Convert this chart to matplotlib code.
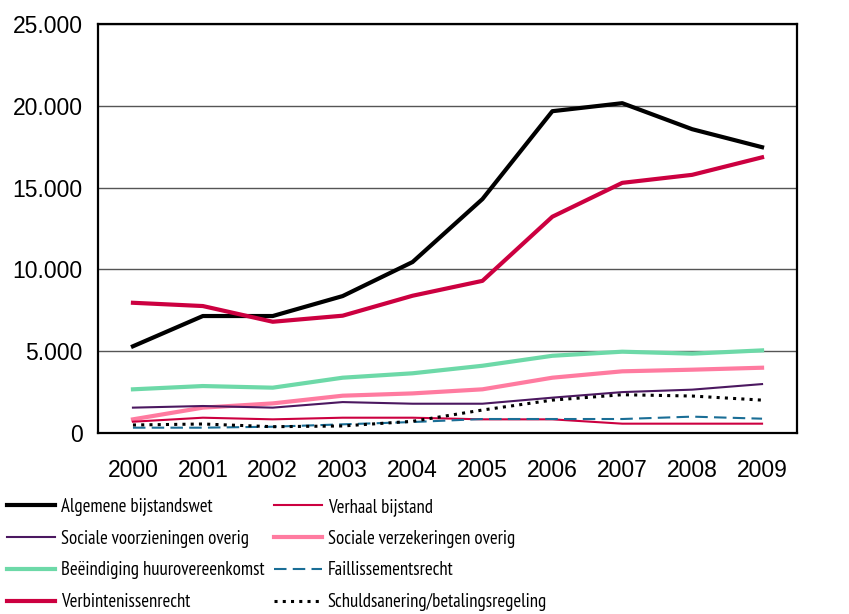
import matplotlib
matplotlib.use("Agg")
import matplotlib.pyplot as plt
from matplotlib.ticker import FuncFormatter

plt.rcParams["font.family"] = ["Liberation Sans", "DejaVu Sans"]

years = [2000, 2001, 2002, 2003, 2004, 2005, 2006, 2007, 2008, 2009]

algemene_bijstandswet = [5300, 7150, 7150, 8370, 10450, 14300, 19670, 20160, 18570, 17470]
verhaal_bijstand = [690, 935, 835, 935, 935, 835, 835, 570, 570, 570]
sociale_voorzieningen = [1550, 1650, 1550, 1890, 1790, 1790, 2160, 2500, 2650, 2990]
sociale_verzekeringen = [835, 1550, 1810, 2280, 2420, 2670, 3380, 3770, 3870, 3990]
beeindiging_huur = [2670, 2870, 2770, 3380, 3650, 4110, 4720, 4970, 4850, 5050]
faillissementsrecht = [325, 325, 385, 530, 670, 855, 855, 855, 1000, 875]
verbintenissenrecht = [7960, 7760, 6800, 7170, 8390, 9300, 13220, 15290, 15780, 16850]
schuldsanering = [490, 550, 385, 430, 715, 1405, 2010, 2340, 2260, 2010]

fig = plt.figure(figsize=(8.49, 6.14), dpi=100)
ax = fig.add_axes([98 / 849, 1 - 433 / 614, 699 / 849, 409 / 614])

x = list(range(len(years)))

ax.plot(x, beeindiging_huur, color="#6DD9A8", lw=3.0, label="Beëindiging huurovereenkomst")
ax.plot(x, sociale_verzekeringen, color="#FF7BA0", lw=3.0, label="Sociale verzekeringen overig")
ax.plot(x, sociale_voorzieningen, color="#4B1860", lw=1.5, label="Sociale voorzieningen overig")
ax.plot(x, verhaal_bijstand, color="#CC0040", lw=1.5, label="Verhaal bijstand")
ax.plot(x, faillissementsrecht, color="#1A6E96", lw=1.5, dashes=(6, 3),
        label="Faillissementsrecht")
ax.plot(x, schuldsanering, color="black", lw=2.2, dashes=(1, 1.7),
        dash_capstyle="butt", label="Schuldsanering/betalingsregeling")
ax.plot(x, algemene_bijstandswet, color="black", lw=3.0, label="Algemene bijstandswet")
ax.plot(x, verbintenissenrecht, color="#CC0040", lw=3.0, label="Verbintenissenrecht")

ax.set_xlim(-0.5, len(years) - 0.5)
ax.set_ylim(0, 25000)
ax.set_yticks(range(0, 25001, 5000))
ax.yaxis.set_major_formatter(FuncFormatter(lambda v, p: f"{int(v):,}".replace(",", ".")))
ax.set_xticks(x)
ax.set_xticklabels([str(y) for y in years])
ax.tick_params(length=0, labelsize=16.5)
ax.tick_params(axis="x", pad=19)
ax.tick_params(axis="y", pad=11)
ax.grid(axis="y", color="#555555", lw=1.0)
ax.set_axisbelow(True)
for s in ax.spines.values():
    s.set_linewidth(1.6)
    s.set_color("black")

# legend text in the reference is a narrow face
handles, labels = ax.get_legend_handles_labels()
by = dict(zip(labels, handles))
order = ["Algemene bijstandswet", "Sociale voorzieningen overig",
         "Beëindiging huurovereenkomst", "Verbintenissenrecht",
         "Verhaal bijstand", "Sociale verzekeringen overig",
         "Faillissementsrecht", "Schuldsanering/betalingsregeling"]
fig.legend([by[k] for k in order], order, ncol=2, loc="upper left",
           bbox_to_anchor=(7 / 849, 1 - 498 / 614), frameon=False,
           prop={"family": ["PT Sans Narrow", "Liberation Sans"], "size": 13.5},
           borderpad=0, borderaxespad=0, handlelength=2.56,
           handletextpad=0.32, columnspacing=0.48, labelspacing=0.73)

fig.savefig("out.png", dpi=100)
